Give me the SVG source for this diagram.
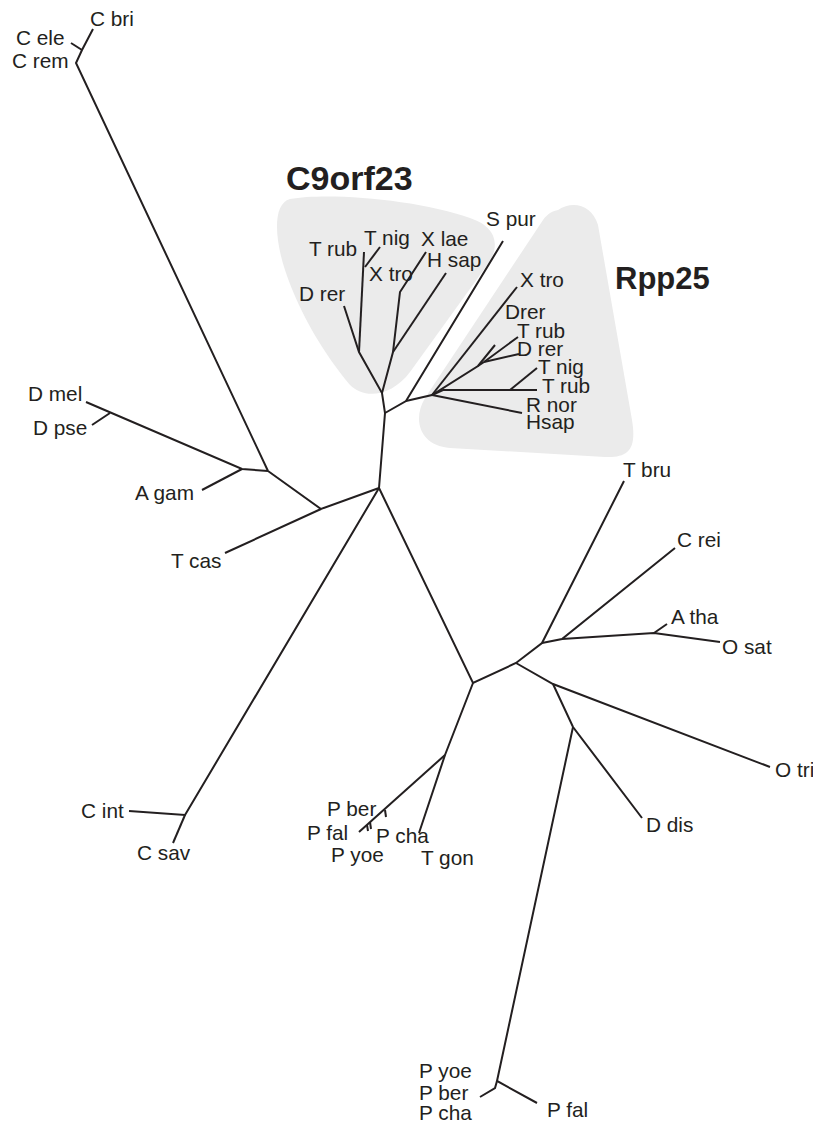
<svg xmlns="http://www.w3.org/2000/svg" width="813" height="1123" viewBox="0 0 813 1123">
<style>
.lbl{font-family:"Liberation Sans",Arial,Helvetica,sans-serif;font-size:20.8px;fill:#231f20}
.hdr{font-family:"Liberation Sans",Arial,Helvetica,sans-serif;font-weight:bold;fill:#231f20}
.e{fill:none;stroke:#231f20;stroke-width:2;stroke-linecap:butt;stroke-linejoin:miter}
.blob{fill:#ebebeb;stroke:none}
</style>
<rect width="813" height="1123" fill="#ffffff"/>
<g id="clusters">
<path id="blob-c9orf23" class="blob" d="M290,199 C330,192 420,200 470,218 C500,228 500,250 485,268 L410,372 C392,396 365,400 350,385 C325,355 300,315 285,270 C275,240 272,204 290,199 Z"/>
<path id="blob-rpp25" class="blob" d="M558,210 C573,200 592,205 598,225 L632,420 C637,450 628,458 605,457 L450,448 C420,446 412,420 425,398 L543,220 C548,213 553,211 558,210 Z"/>
<text id="hdr-c9orf23" class="hdr" x="286" y="190" font-size="34">C9orf23</text>
<text id="hdr-rpp25" class="hdr" x="615" y="289" font-size="31">Rpp25</text>
</g>
<g id="connectors">
<polyline class="e" points="93,29 82,50 76,63 268,471"/>
<line class="e" x1="82" y1="50" x2="71" y2="43"/>
<polyline class="e" points="268,471 242,469 86,402"/>
<line class="e" x1="110" y1="413" x2="92" y2="425"/>
<line class="e" x1="242" y1="469" x2="202" y2="490"/>
<polyline class="e" points="268,471 321,509 379,488"/>
<line class="e" x1="321" y1="509" x2="225" y2="553"/>
<polyline class="e" points="379,488 385,413 382,393 359,352 344,306"/>
<polyline class="e" points="359,352 364,252"/>
<line class="e" x1="365" y1="267" x2="380" y2="247"/>
<polyline class="e" points="382,393 393,352 400,292 426,252"/>
<line class="e" x1="393" y1="352" x2="446" y2="273"/>
<polyline class="e" points="385,413 406,401 503,241"/>
<polyline class="e" points="406,401 432,395 478,366 495,345"/>
<polyline class="e" points="478,366 484,362 518,337"/>
<line class="e" x1="484" y1="362" x2="519" y2="354"/>
<line class="e" x1="432" y1="395" x2="517" y2="287"/>
<polyline class="e" points="432,395 443,390 537,390"/>
<line class="e" x1="510" y1="390" x2="537" y2="368"/>
<line class="e" x1="432" y1="395" x2="522" y2="413"/>
<polyline class="e" points="379,488 185,815 129,811"/>
<line class="e" x1="185" y1="815" x2="173" y2="843"/>
<polyline class="e" points="379,488 473,683 516,663 542,643 624,481"/>
<polyline class="e" points="542,643 562,639 675,548"/>
<polyline class="e" points="562,639 654,633 720,642"/>
<line class="e" x1="654" y1="633" x2="667" y2="624"/>
<polyline class="e" points="516,663 553,684 770,767"/>
<polyline class="e" points="553,684 573,727 642,818"/>
<polyline class="e" points="573,727 497,1081 537,1103"/>
<polyline class="e" points="497,1081 495,1088 480,1097"/>
<polyline class="e" points="473,683 445,755 419,833"/>
<line class="e" x1="445" y1="755" x2="359" y2="832"/>
<line class="e" x1="385" y1="810" x2="386" y2="817"/>
<line class="e" x1="370" y1="822" x2="371" y2="829"/>
<line class="e" x1="367" y1="825" x2="368" y2="831"/>
</g>
<g id="n-c-bri"><text class="lbl" x="90" y="26">C bri</text></g>
<g id="n-c-ele"><text class="lbl" x="16" y="45">C ele</text></g>
<g id="n-c-rem"><text class="lbl" x="12" y="68">C rem</text></g>
<g id="n-d-mel"><text class="lbl" x="28" y="401">D mel</text></g>
<g id="n-d-pse"><text class="lbl" x="33" y="435">D pse</text></g>
<g id="n-a-gam"><text class="lbl" x="135" y="500">A gam</text></g>
<g id="n-t-cas"><text class="lbl" x="171" y="568">T cas</text></g>
<g id="n-c-int"><text class="lbl" x="81" y="818">C int</text></g>
<g id="n-c-sav"><text class="lbl" x="137" y="860">C sav</text></g>
<g id="n-c9-t-rub"><text class="lbl" x="309" y="256">T rub</text></g>
<g id="n-c9-t-nig"><text class="lbl" x="364" y="245">T nig</text></g>
<g id="n-c9-x-lae"><text class="lbl" x="421" y="246">X lae</text></g>
<g id="n-c9-h-sap"><text class="lbl" x="427" y="267">H sap</text></g>
<g id="n-c9-x-tro"><text class="lbl" x="369" y="281">X tro</text></g>
<g id="n-c9-d-rer"><text class="lbl" x="299" y="301">D rer</text></g>
<g id="n-s-pur"><text class="lbl" x="486" y="226">S pur</text></g>
<g id="n-rp-x-tro"><text class="lbl" x="520" y="287">X tro</text></g>
<g id="n-rp-drer"><text class="lbl" x="505" y="319">Drer</text></g>
<g id="n-rp-t-rub1"><text class="lbl" x="517" y="338">T rub</text></g>
<g id="n-rp-d-rer"><text class="lbl" x="517" y="356">D rer</text></g>
<g id="n-rp-t-nig"><text class="lbl" x="538" y="374">T nig</text></g>
<g id="n-rp-t-rub2"><text class="lbl" x="542" y="393">T rub</text></g>
<g id="n-rp-r-nor"><text class="lbl" x="526" y="412">R nor</text></g>
<g id="n-rp-hsap"><text class="lbl" x="526" y="429">Hsap</text></g>
<g id="n-t-bru"><text class="lbl" x="623" y="477">T bru</text></g>
<g id="n-c-rei"><text class="lbl" x="677" y="547">C rei</text></g>
<g id="n-a-tha"><text class="lbl" x="671" y="624">A tha</text></g>
<g id="n-o-sat"><text class="lbl" x="722" y="654">O sat</text></g>
<g id="n-o-tri"><text class="lbl" x="775" y="777">O tri</text></g>
<g id="n-d-dis"><text class="lbl" x="646" y="832">D dis</text></g>
<g id="n-p-ber1"><text class="lbl" x="327" y="816">P ber</text></g>
<g id="n-p-fal1"><text class="lbl" x="307" y="840">P fal</text></g>
<g id="n-p-cha1"><text class="lbl" x="376" y="843">P cha</text></g>
<g id="n-p-yoe1"><text class="lbl" x="331" y="862">P yoe</text></g>
<g id="n-t-gon"><text class="lbl" x="421" y="865">T gon</text></g>
<g id="n-p-yoe2"><text class="lbl" x="419" y="1078">P yoe</text></g>
<g id="n-p-ber2"><text class="lbl" x="419" y="1100">P ber</text></g>
<g id="n-p-cha2"><text class="lbl" x="419" y="1120">P cha</text></g>
<g id="n-p-fal2"><text class="lbl" x="547" y="1117">P fal</text></g>
</svg>
